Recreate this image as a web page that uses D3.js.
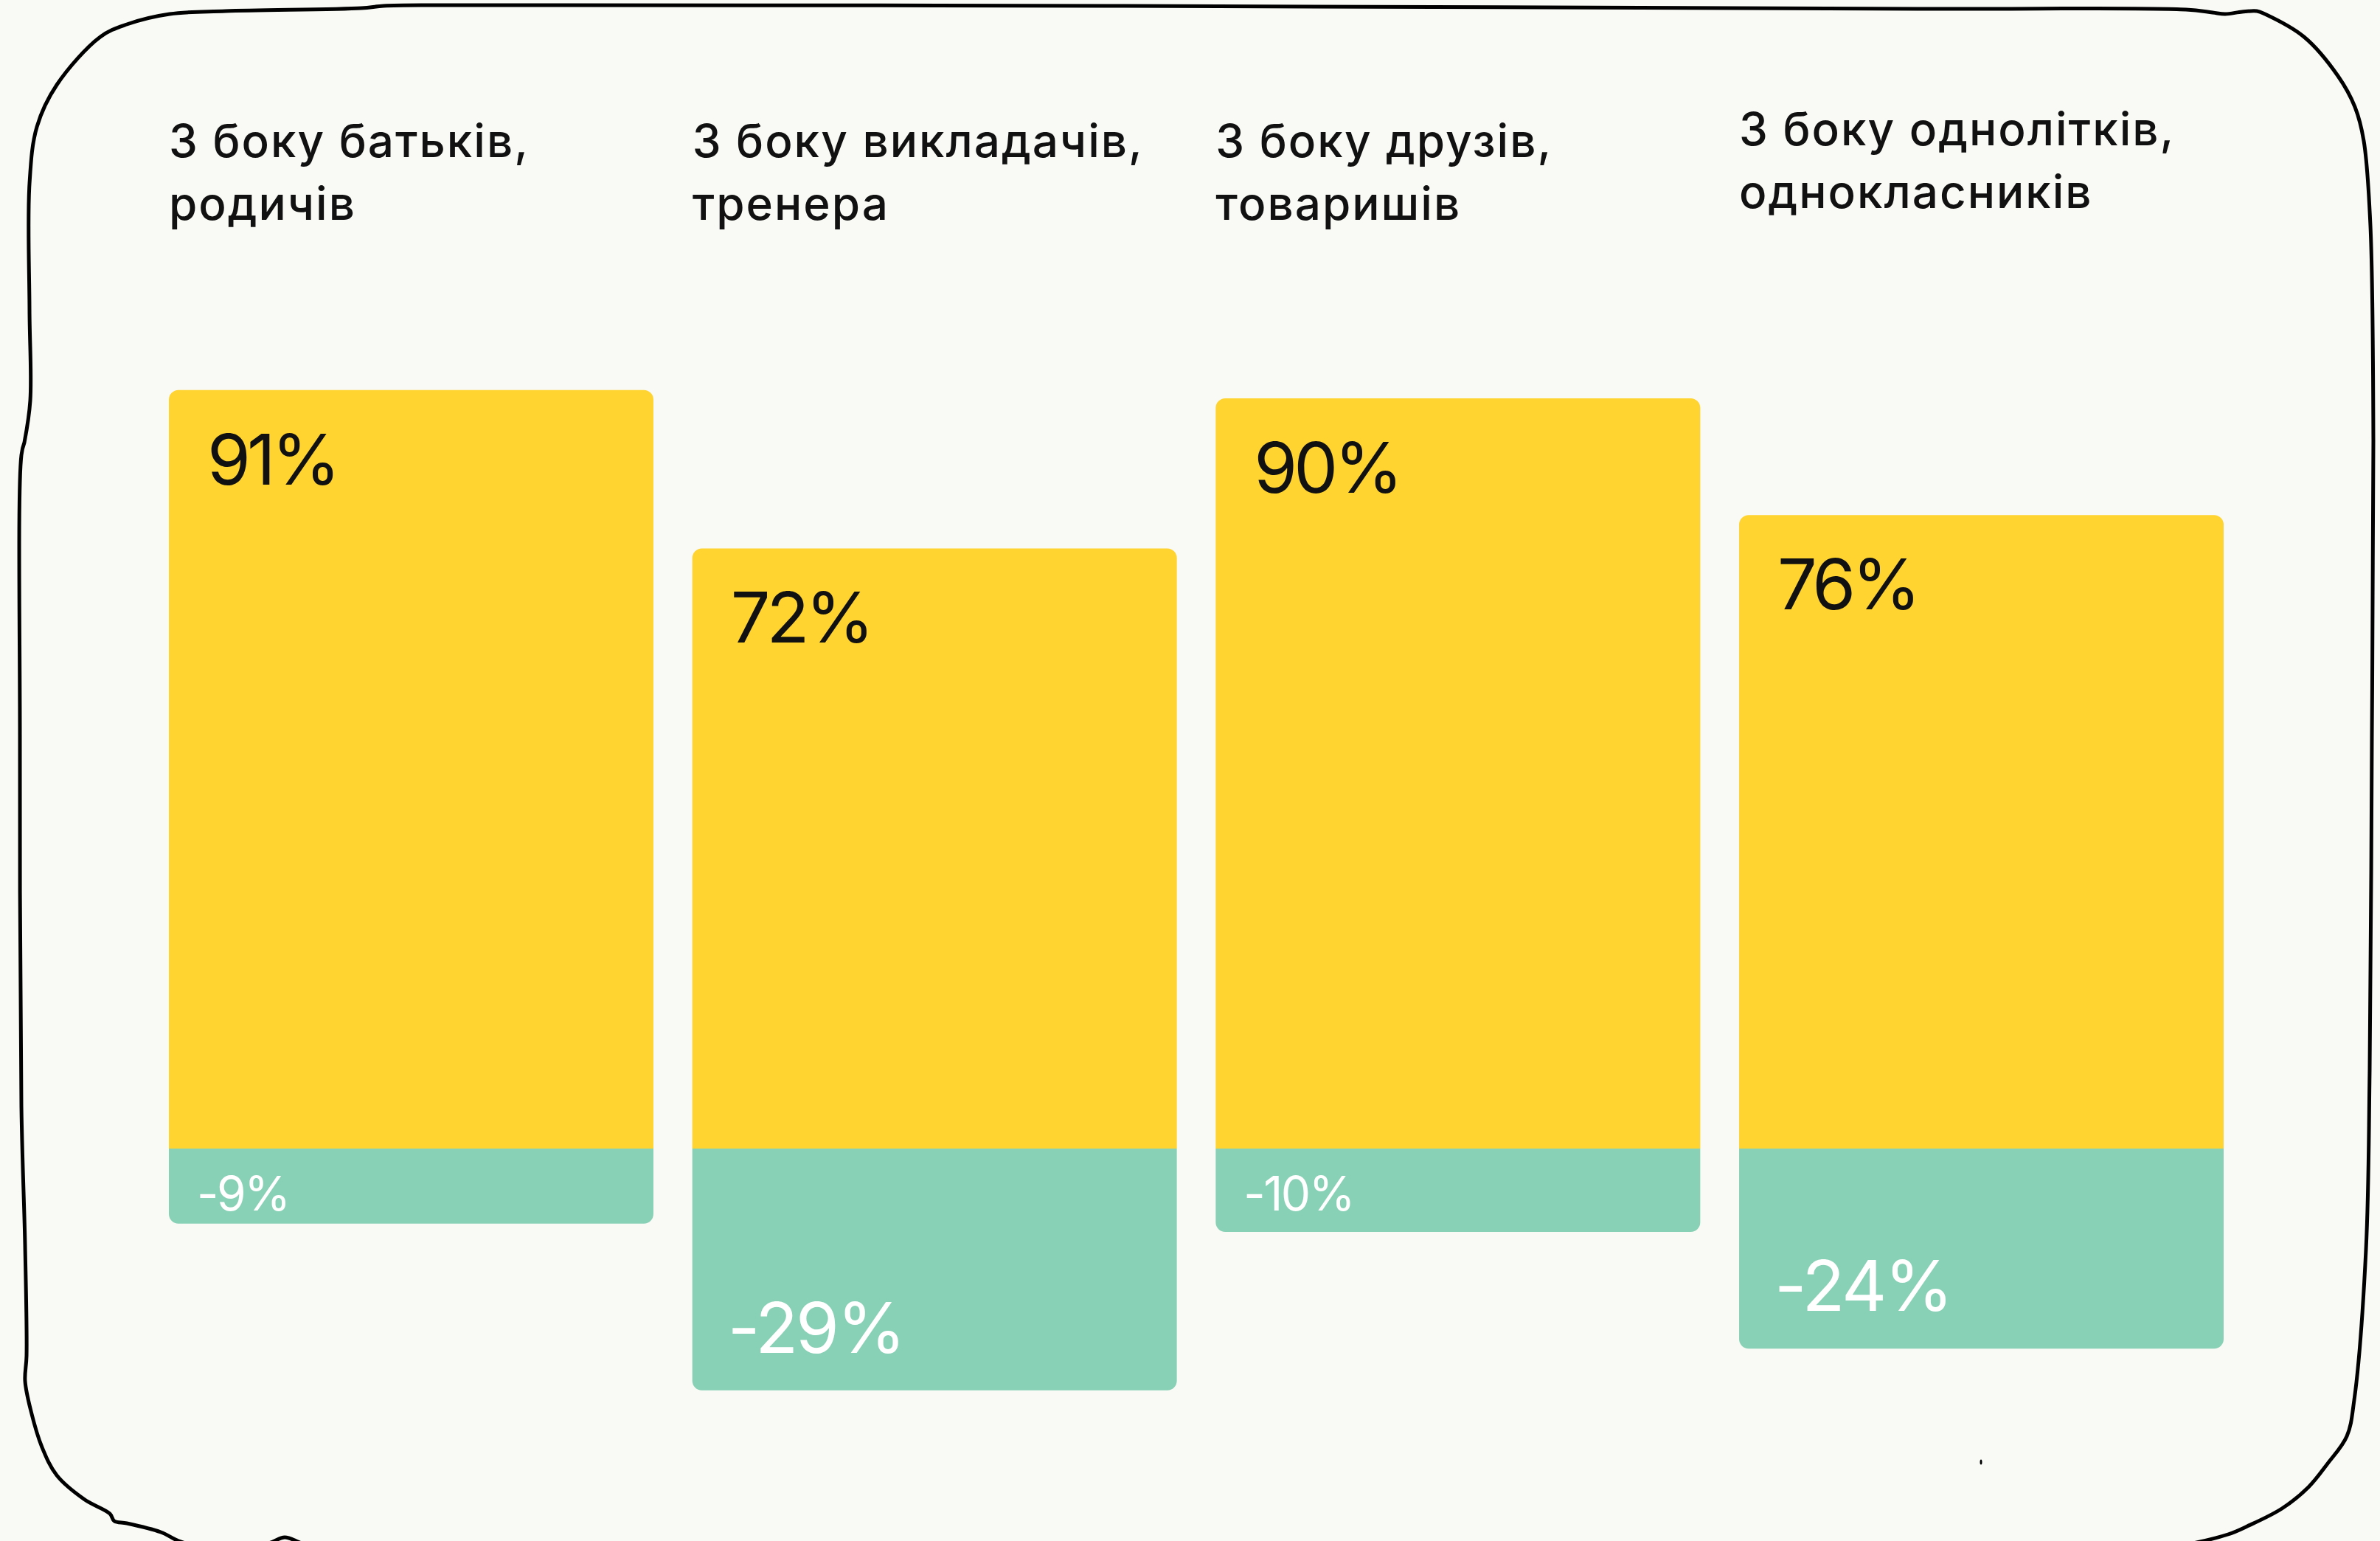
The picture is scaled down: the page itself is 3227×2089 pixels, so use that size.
<!DOCTYPE html>
<html><head><meta charset="utf-8">
<script src="https://cdn.jsdelivr.net/npm/d3@7"></script>
<style>html,body{margin:0;padding:0;background:#F9F9F5;} svg{display:block;}</style>
</head><body>
<svg id="chart" width="3227" height="2089"></svg>
<script>
// ---- data ----
const categories = ["З боку батьків, родичів", "З боку викладачів, тренера", "З боку друзів, товаришів", "З боку однолітків, однокласників"];
const positiveValues = [91, 72, 90, 76];
const negativeValues = [-9, -29, -10, -24];
const positiveLabels = ["91%", "72%", "90%", "76%"];
const negativeLabels = ["-9%", "-29%", "-10%", "-24%"];

// ---- layout ----
const W = 3227, H = 2089;
const BG = "#F9F9F5", YELLOW = "#FFD330", GREEN = "#88D1B6";
const FONT = "Inter, 'Noto Sans', sans-serif";
const svg = d3.select("#chart");
svg.append("rect").attr("width", W).attr("height", H).attr("fill", BG);

const x = d3.scaleBand().domain(categories).range([229, 3015]).paddingInner(0.0743).paddingOuter(0);
const y = d3.scaleLinear().domain([-100, 100]).range([1557 + 1130, 1557 - 1130]);
const r = 13;

function barPath(x0, y0, y1, w, roundTop) {
  if (roundTop) {
    return `M${x0},${y1}L${x0},${y0 + r}A${r},${r} 0 0 1 ${x0 + r},${y0}L${x0 + w - r},${y0}A${r},${r} 0 0 1 ${x0 + w},${y0 + r}L${x0 + w},${y1}Z`;
  }
  return `M${x0},${y0}L${x0 + w},${y0}L${x0 + w},${y1 - r}A${r},${r} 0 0 1 ${x0 + w - r},${y1}L${x0 + r},${y1}A${r},${r} 0 0 1 ${x0},${y1 - r}Z`;
}

const rows = categories.map((c, i) => ({ c, i, pos: positiveValues[i], neg: negativeValues[i], pl: positiveLabels[i], nl: negativeLabels[i] }));
const bw = x.bandwidth();

// positive bars
svg.append("g").selectAll("path").data(rows).join("path")
  .attr("d", d => barPath(x(d.c), y(d.pos), y(0), bw, true))
  .attr("fill", YELLOW);
// negative bars
svg.append("g").selectAll("path").data(rows).join("path")
  .attr("d", d => barPath(x(d.c), y(0), y(d.neg), bw, false))
  .attr("fill", GREEN);

// positive value labels
svg.append("g").selectAll("text").data(rows).join("text")
  .attr("x", d => x(d.c) + 52)
  .attr("y", d => y(d.pos) + 128)
  .attr("font-family", FONT).attr("font-size", 95).attr("fill", "#111")
  .attr("letter-spacing", -5)
  .text(d => d.pl);

// negative value labels
svg.append("g").selectAll("text").data(rows).join("text")
  .attr("x", d => x(d.c) + (Math.abs(d.neg) >= 15 ? 48 : 38))
  .attr("y", d => Math.abs(d.neg) >= 15 ? y(d.neg) - 51 : y(0) + 84)
  .attr("font-family", FONT)
  .attr("font-size", d => Math.abs(d.neg) >= 15 ? 95 : 64)
  .attr("letter-spacing", d => Math.abs(d.neg) >= 15 ? -3 : -2.5)
  .attr("fill", "#FFFFFF")
  .text(d => d.nl);

// category labels (two lines)
const labelShift = [0, 0, 0, -16];
const lab = svg.append("g").selectAll("text").data(rows).join("text")
  .attr("font-family", FONT).attr("font-size", 62).attr("font-weight", 500).attr("fill", "#111")
  .attr("letter-spacing", 2);
lab.each(function (d) {
  const k = d.c.indexOf(",");
  const lines = [d.c.slice(0, k + 1), d.c.slice(k + 2)];
  d3.select(this).selectAll("tspan").data(lines).join("tspan")
    .attr("x", x(d.c))
    .attr("y", (l, j) => 213 + labelShift[d.i] + j * 85)
    .text(l => l);
});

// hand-drawn frame
const framePts = [
  [33,600],[41,543],[40,420],[40,249],[50,172],[77,115],[136,50],[172,33],[230,19],[306,15],[490,11],[520,8],[600,7],
  [1500,8],[2600,12],[2964,13],[3000,17],[3017,19],[3040,16],[3060,15],[3071,19],[3124,50],[3170,103],[3193,145],
  [3205,191],[3214,306],[3218,597],[3216,1000],[3213,1450],[3208,1694],[3192,1898],[3182,1947],[3156,1984],[3130,2016],
  [3094,2045],[3047,2069],[3021,2080],[2959,2095],[2800,2120],[500,2120],[409,2092],[386,2084],[364,2092],[300,2100],
  [245,2090],[218,2077],[172,2065],[155,2062],[149,2052],[115,2033],[77,2000],[57,1962],[42,1913],[34,1872],[36,1838],
  [34,1688],[29,1500],[27,1000],[29,617],[33,600]
];
svg.append("path")
  .attr("d", d3.line().curve(d3.curveCatmullRom.alpha(0.5))(framePts))
  .attr("fill", "none").attr("stroke", "#000").attr("stroke-width", 5)
  .attr("stroke-linejoin", "round").attr("stroke-linecap", "round");
svg.append("ellipse").attr("cx", 2686).attr("cy", 1982).attr("rx", 1.5).attr("ry", 3.5).attr("fill", "#000");
</script>
</body></html>
